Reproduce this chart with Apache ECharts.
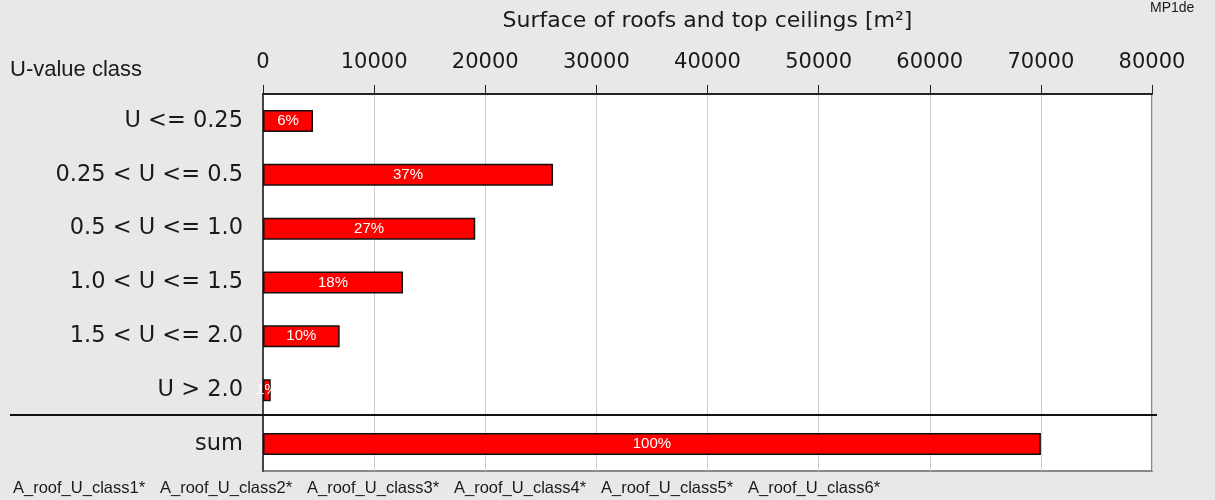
<!DOCTYPE html>
<html><head><meta charset="utf-8">
<script src="https://cdn.jsdelivr.net/npm/echarts@6/dist/echarts.min.js"></script>
<style>html,body{margin:0;padding:0;background:#e8e8e8}#c{width:1215px;height:500px}</style>
</head><body><div id="c"></div>
<script>
const categories = ["U <= 0.25", "0.25 < U <= 0.5", "0.5 < U <= 1.0", "1.0 < U <= 1.5", "1.5 < U <= 2.0", "U > 2.0", "sum"];
const surfaceValues = [4500, 26100, 19100, 12600, 6900, 700, 70000];
const percentLabels = ["6%", "37%", "27%", "18%", "10%", "1%", "100%"];
const xTicks = [0, 10000, 20000, 30000, 40000, 50000, 60000, 70000, 80000];
const footnoteItems = ["A_roof_U_class1*", "A_roof_U_class2*", "A_roof_U_class3*", "A_roof_U_class4*", "A_roof_U_class5*", "A_roof_U_class6*"];

const ARIAL = "'Liberation Sans', Arial, sans-serif";
const WIDE = "'DejaVu Sans', Verdana, sans-serif";
const chart = echarts.init(document.getElementById('c'));

const footGraphics = footnoteItems.map((t, i) => ({
  type: 'text', left: 13 + i * 147, top: 480,
  style: { text: t, fill: '#1a1a1a', font: '16.5px ' + ARIAL }
}));

chart.setOption({
  backgroundColor: '#e8e8e8',
  animation: false,
  textStyle: { fontFamily: WIDE },
  grid: { left: 263, right: 63, top: 94, bottom: 29, outerBoundsMode: 'none', containLabel: false,
    show: true, backgroundColor: '#ffffff', borderColor: '#888888', borderWidth: 2 },
  xAxis: {
    type: 'value', position: 'top', min: xTicks[0], max: xTicks[xTicks.length - 1], interval: 10000,
    name: 'Surface of roofs and top ceilings [m²]', nameLocation: 'middle', nameGap: 62,
    nameTextStyle: { fontSize: 22, color: '#1a1a1a', fontFamily: WIDE },
    axisLine: { show: true, lineStyle: { color: '#222', width: 2 } },
    axisTick: { show: true, inside: false, length: 9, lineStyle: { color: '#222', width: 1 } },
    axisLabel: { fontSize: 21, color: '#1a1a1a', margin: 21, fontFamily: WIDE, formatter: v => String(v) },
    splitLine: { show: true, lineStyle: { color: '#cccccc', width: 1 } }
  },
  yAxis: {
    type: 'category', inverse: true, data: categories,
    axisLine: { show: true, lineStyle: { color: '#444', width: 2 } },
    axisTick: { show: false },
    axisLabel: { fontSize: 22.5, color: '#1a1a1a', margin: 20, fontFamily: WIDE },
    splitLine: { show: false }
  },
  series: [{
    type: 'bar', data: surfaceValues, barWidth: 22,
    itemStyle: { color: '#ff0000', borderColor: '#111', borderWidth: 1.5 },
    label: { show: true, position: 'inside', color: '#ffffff', fontSize: 15, fontFamily: ARIAL,
      formatter: p => percentLabels[p.dataIndex] }
  }],
  graphic: [
    { type: 'text', left: 10, top: 59, style: { text: 'U-value class', fill: '#1a1a1a', font: '22px ' + ARIAL } },
    { type: 'text', left: 1150, top: 1, style: { text: 'MP1de', fill: '#1a1a1a', font: '14px ' + ARIAL } },
    { type: 'line', shape: { x1: 10, y1: 415, x2: 1157, y2: 415 }, style: { stroke: '#111', lineWidth: 2 }, z: 100 }
  ].concat(footGraphics)
});
</script></body></html>
